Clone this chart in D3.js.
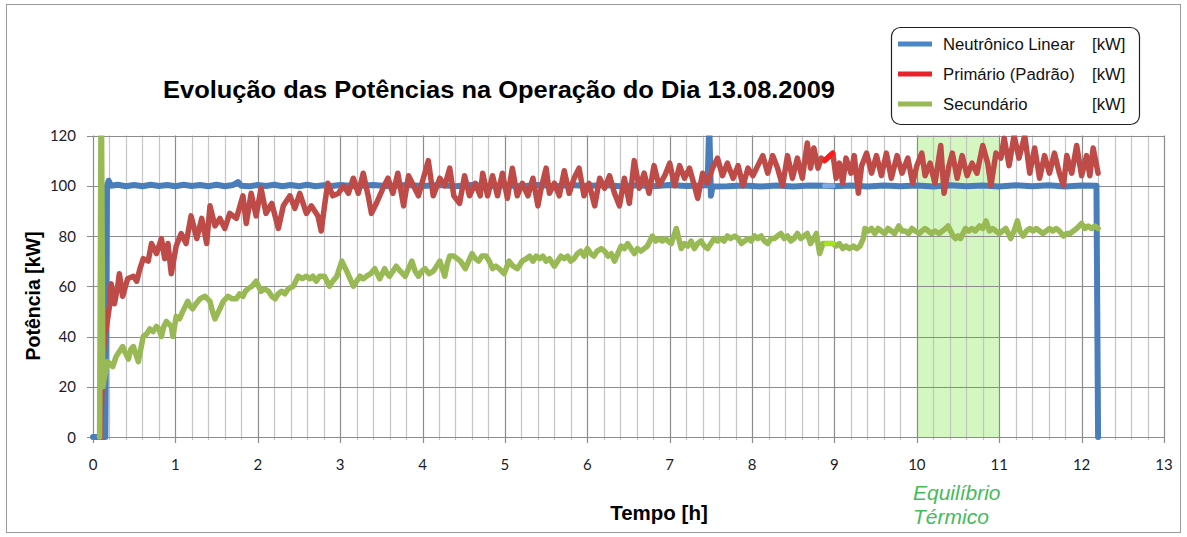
<!DOCTYPE html>
<html>
<head>
<meta charset="utf-8">
<script src="https://cdn.jsdelivr.net/npm/d3@7"></script>
<style>
  html, body { margin: 0; padding: 0; background: #fff; }
  svg { display: block; }
</style>
</head>
<body>
<svg id="chart" width="1187" height="537"></svg>
<script>
// ---------------- DATA ----------------
const title = "Evolução das Potências na Operação do Dia 13.08.2009";
const xLabel = "Tempo [h]";
const yLabel = "Potência [kW]";
const xTicks = [0,1,2,3,4,5,6,7,8,9,10,11,12,13];
const yTicks = [0,20,40,60,80,100,120];
const seriesNames = ["Neutrônico Linear", "Primário (Padrão)", "Secundário"];
const seriesUnits = ["[kW]", "[kW]", "[kW]"];
const shadeRange = [10, 11];
const shadeLabel = ["Equilíbrio", "Térmico"];

// Neutrônico Linear [h, kW]
const neutronico = [[0,0],[0.15,0],[0.17,100],[0.19,102],[0.22,100],[0.3,100.4],[0.4,99.8],[0.5,100.3],[0.6,99.8],[0.7,100.4],[0.8,99.9],[0.9,100.3],
[1.0,99.8],[1.1,100.4],[1.2,99.9],[1.3,100.3],[1.4,99.8],[1.5,100.4],[1.6,99.8],[1.7,100.3],[1.76,101.5],[1.8,100],[1.9,99.8],[2.0,100.3],
[2.1,99.9],[2.2,100.4],[2.3,99.8],[2.4,100.3],[2.5,99.8],[2.6,100.4],[2.7,99.8],[2.8,100.2],[2.9,99.9],[3.0,100.3],[3.2,99.8],[3.4,100.3],
[3.6,99.8],[3.8,100.3],[4.0,99.9],[4.2,100.3],[4.4,99.8],[4.6,100.3],[4.8,99.9],[5.0,100.2],[5.2,99.8],[5.4,100.3],[5.6,99.8],[5.8,100.3],
[6.0,99.9],[6.2,100.3],[6.4,99.8],[6.6,100.2],[6.8,99.8],[7.0,100.3],[7.2,99.9],[7.46,100.2],[7.48,125],[7.5,96],[7.52,99.7],[7.7,99.8],
[7.9,100.1],[8.1,99.7],[8.3,100.1],[8.5,99.7],[8.7,100.1],[8.88,100],[9.0,99.8],[9.2,100.1],[9.4,99.7],[9.6,100.1],[9.8,99.8],[10.0,100.1],
[10.2,99.7],[10.4,100.2],[10.6,99.8],[10.8,100.1],[11.0,99.7],[11.2,100.2],[11.4,99.8],[11.6,100.2],[11.8,99.7],[12.0,100.1],[12.18,100],[12.2,0]];

// Primário (Padrão) [h, kW]
const primario = [[0.09,0],[0.12,30],[0.14,40],[0.16,43],[0.2,52],[0.22,61],[0.26,53],[0.3,60],[0.32,65],[0.36,56],[0.42,63],[0.49,64],[0.53,62],
[0.57,67],[0.61,71],[0.67,70],[0.71,77],[0.77,73],[0.83,79],[0.87,71],[0.91,77],[0.95,65],[1.01,76],[1.07,81],[1.13,77],[1.19,88],[1.26,79],
[1.32,87],[1.38,77],[1.42,92],[1.48,84],[1.54,87],[1.6,83],[1.66,89],[1.74,87],[1.82,96],[1.86,85],[1.92,97],[1.98,88],[2.04,99],[2.1,89],
[2.17,93],[2.25,83],[2.31,92],[2.39,96],[2.45,91],[2.51,97],[2.59,89],[2.65,92],[2.73,88],[2.77,82],[2.81,92],[2.85,101],[2.91,96],[2.98,97],
[3.04,100],[3.1,97],[3.16,103],[3.22,97],[3.28,105],[3.34,96],[3.38,89],[3.44,93],[3.52,99],[3.58,103],[3.64,97],[3.7,105],[3.77,92],[3.83,104],
[3.89,100],[3.95,96],[4.01,103],[4.07,110],[4.13,96],[4.21,103],[4.27,100],[4.33,107],[4.38,96],[4.45,93],[4.51,104],[4.57,96],[4.64,101],
[4.7,96],[4.73,105],[4.79,96],[4.85,104],[4.91,96],[4.97,105],[5.03,95],[5.09,107],[5.15,96],[5.21,101],[5.28,96],[5.34,103],[5.4,92],[5.44,99],
[5.5,107],[5.54,97],[5.6,101],[5.66,96],[5.72,106],[5.78,97],[5.84,103],[5.9,107],[5.96,96],[6.02,101],[6.09,92],[6.15,103],[6.21,99],[6.27,104],
[6.33,97],[6.39,92],[6.45,103],[6.51,93],[6.57,110],[6.63,99],[6.69,105],[6.75,97],[6.81,108],[6.87,100],[6.94,104],[7.0,109],[7.06,100],
[7.12,108],[7.18,103],[7.24,107],[7.3,100],[7.34,95],[7.4,105],[7.46,101],[7.52,107],[7.58,111],[7.64,104],[7.7,109],[7.77,103],[7.83,108],
[7.89,100],[7.95,107],[8.01,104],[8.07,108],[8.13,112],[8.19,105],[8.25,112],[8.31,107],[8.37,100],[8.43,112],[8.49,103],[8.55,111],[8.61,103],
[8.67,117],[8.71,107],[8.75,115],[8.8,107],[8.84,111],[8.88,110],[8.98,113],[9.02,103],[9.06,109],[9.1,101],[9.14,111],[9.2,105],[9.24,112],
[9.29,97],[9.33,108],[9.39,113],[9.45,105],[9.51,112],[9.57,104],[9.63,113],[9.69,103],[9.76,112],[9.82,105],[9.89,111],[9.95,101],[10.0,108],
[10.06,113],[10.1,104],[10.16,109],[10.22,101],[10.29,116],[10.33,97],[10.39,108],[10.43,113],[10.49,103],[10.55,112],[10.61,104],[10.67,109],
[10.73,105],[10.8,116],[10.86,109],[10.9,100],[10.96,113],[11.02,111],[11.06,119],[11.12,108],[11.18,120],[11.24,111],[11.31,120],[11.37,105],
[11.43,115],[11.49,103],[11.55,112],[11.61,105],[11.67,113],[11.73,105],[11.78,100],[11.82,112],[11.88,105],[11.94,116],[12.0,104],[12.06,112],
[12.1,104],[12.14,115],[12.2,105]];

// Secundário [h, kW]
const secundario = [[0.08,0],[0.1,150],[0.12,20],[0.14,24],[0.18,30],[0.24,28],[0.28,32],[0.32,34],[0.36,36],[0.4,33],[0.43,31],[0.46,35],[0.49,36],
[0.52,33],[0.55,30],[0.58,35],[0.61,40],[0.65,41],[0.69,43],[0.73,42],[0.77,44],[0.8,43],[0.83,40],[0.86,44],[0.89,46],[0.92,45],[0.95,44],
[0.97,40],[1.01,48],[1.05,47],[1.09,50],[1.12,52],[1.15,54],[1.18,52],[1.21,51],[1.25,53],[1.3,55],[1.36,56],[1.39,55],[1.42,54],[1.45,50],
[1.48,47],[1.51,49],[1.54,51],[1.58,54],[1.61,55],[1.64,56],[1.69,55],[1.74,55],[1.78,57],[1.82,56],[1.85,58],[1.88,59],[1.93,60],[1.98,62],
[2.01,60],[2.04,58],[2.08,59],[2.13,58],[2.17,56],[2.21,55],[2.25,57],[2.29,58],[2.33,57],[2.37,59],[2.43,60],[2.46,62],[2.49,64],[2.54,63],
[2.59,64],[2.63,63],[2.67,64],[2.71,62],[2.75,64],[2.81,64],[2.84,62],[2.87,60],[2.91,62],[2.96,64],[3.02,70],[3.05,68],[3.08,66],[3.12,63],
[3.16,60],[3.2,62],[3.24,64],[3.28,63],[3.32,64],[3.37,65],[3.42,67],[3.45,65],[3.48,63],[3.51,65],[3.54,67],[3.57,65],[3.6,64],[3.64,66],
[3.68,68],[3.73,66],[3.79,64],[3.83,67],[3.87,70],[3.91,66],[3.95,64],[3.99,66],[4.03,67],[4.08,65],[4.13,66],[4.17,68],[4.21,70],[4.24,67],
[4.27,64],[4.3,69],[4.33,72],[4.38,72],[4.42,71],[4.46,70],[4.52,67],[4.56,70],[4.6,73],[4.64,71],[4.68,70],[4.72,72],[4.77,72],[4.81,70],
[4.85,67],[4.89,68],[4.93,67],[4.99,65],[5.05,70],[5.1,68],[5.15,67],[5.21,70],[5.26,71],[5.3,72],[5.34,70],[5.38,72],[5.42,71],[5.46,72],
[5.5,70],[5.54,71],[5.6,68],[5.64,70],[5.68,72],[5.72,71],[5.76,72],[5.8,70],[5.84,71],[5.88,73],[5.92,74],[5.96,72],[6.0,75],[6.04,73],
[6.08,72],[6.12,74],[6.17,75],[6.21,74],[6.25,72],[6.29,73],[6.33,70],[6.37,73],[6.41,76],[6.45,75],[6.49,77],[6.53,75],[6.57,73],[6.61,75],
[6.65,74],[6.69,75],[6.73,76],[6.76,78],[6.79,80],[6.83,78],[6.87,79],[6.91,78],[6.95,79],[6.98,78],[7.02,77],[7.05,80],[7.08,83],[7.11,79],
[7.14,75],[7.18,77],[7.22,76],[7.26,78],[7.3,75],[7.34,77],[7.38,78],[7.42,76],[7.46,75],[7.5,77],[7.54,79],[7.58,78],[7.62,79],[7.66,78],
[7.7,80],[7.74,79],[7.79,80],[7.83,79],[7.87,77],[7.91,78],[7.95,79],[7.99,78],[8.03,80],[8.07,79],[8.11,80],[8.15,78],[8.19,77],[8.23,79],
[8.27,79],[8.31,80],[8.35,81],[8.39,79],[8.43,80],[8.47,78],[8.51,79],[8.55,81],[8.59,79],[8.63,80],[8.67,81],[8.71,77],[8.75,79],[8.78,81],
[8.82,73],[8.86,77],[8.9,77],[8.98,77],[9.02,76],[9.06,77],[9.1,75],[9.14,76],[9.18,75],[9.23,76],[9.27,75],[9.31,76],[9.35,79],[9.37,83],
[9.41,82],[9.45,83],[9.49,81],[9.53,83],[9.57,82],[9.61,81],[9.65,83],[9.69,82],[9.73,81],[9.78,84],[9.82,82],[9.86,82],[9.9,81],[9.94,83],
[9.98,82],[10.03,81],[10.06,82],[10.1,83],[10.14,82],[10.18,81],[10.22,82],[10.27,81],[10.31,82],[10.35,83],[10.38,84],[10.41,82],[10.44,80],
[10.47,79],[10.5,80],[10.53,79],[10.56,81],[10.59,83],[10.63,82],[10.67,83],[10.71,82],[10.76,84],[10.8,83],[10.84,86],[10.88,82],[10.92,83],
[10.96,82],[11.0,81],[11.04,82],[11.08,83],[11.11,81],[11.14,79],[11.18,82],[11.22,86],[11.25,82],[11.29,80],[11.33,82],[11.37,83],[11.41,82],
[11.45,83],[11.49,82],[11.53,81],[11.57,82],[11.61,83],[11.65,82],[11.69,83],[11.73,82],[11.78,80],[11.82,81],[11.86,81],[11.9,82],[11.94,83],
[11.97,84],[12.0,85],[12.04,83],[12.08,84],[12.12,83],[12.16,84],[12.2,83]];

// highlighted (selected) short segments near 9 h
const neutronicoSel = [[8.88,100],[8.98,100]];
const primarioSel = [[8.88,110],[8.98,113]];
const secundarioSel = [[8.9,77],[8.98,77]];

// ---------------- CHART ----------------
const svg = d3.select("#chart");
const X0 = 93, X1 = 1164, Y0 = 437, Y1 = 135.5;
const x = d3.scaleLinear().domain([0, 13]).range([X0, X1]);
const y = d3.scaleLinear().domain([0, 120]).range([Y0, Y1]);
const sans = "'Liberation Sans', Arial, sans-serif";

// outer chart border
svg.append("rect").attr("x", 6.5).attr("y", 4.5).attr("width", 1174).attr("height", 528)
  .attr("fill", "none").attr("stroke", "#9a9a9a").attr("stroke-width", 1);

// shaded band
svg.append("rect")
  .attr("x", x(shadeRange[0])).attr("y", y(120))
  .attr("width", x(shadeRange[1]) - x(shadeRange[0])).attr("height", y(0) - y(120))
  .attr("fill", "#d4f7c2");

// minor vertical grid
const minorX = d3.range(0, 13.001, 0.2).filter(v => Math.abs(v - Math.round(v)) > 1e-6);
svg.append("g").selectAll("line").data(minorX).join("line")
  .attr("x1", d => Math.round(x(d)) + 0.5).attr("x2", d => Math.round(x(d)) + 0.5)
  .attr("y1", y(120)).attr("y2", y(0) + 3)
  .attr("stroke", "#c4c4c4").attr("stroke-width", 1.2);

// major vertical grid
svg.append("g").selectAll("line").data(xTicks).join("line")
  .attr("x1", d => Math.round(x(d)) + 0.5).attr("x2", d => Math.round(x(d)) + 0.5)
  .attr("y1", y(120)).attr("y2", y(0) + 6)
  .attr("stroke", "#8c8c8c").attr("stroke-width", 1.2);

// horizontal grid
svg.append("g").selectAll("line").data(yTicks).join("line")
  .attr("x1", X0 - 6).attr("x2", X1)
  .attr("y1", d => Math.round(y(d)) + 0.5).attr("y2", d => Math.round(y(d)) + 0.5)
  .attr("stroke", "#8c8c8c").attr("stroke-width", 1.2);

// axis tick labels
const tickFont = "Lato, 'Open Sans', sans-serif";
svg.append("g").selectAll("text").data(yTicks).join("text")
  .attr("x", 76).attr("y", d => y(d) + 5.5)
  .attr("text-anchor", "end").attr("font-family", tickFont).attr("font-size", 15)
  .attr("fill", "#1b1b2b").text(d => d);
svg.append("g").selectAll("text").data(xTicks).join("text")
  .attr("x", d => x(d)).attr("y", 470)
  .attr("text-anchor", "middle").attr("font-family", tickFont).attr("font-size", 15)
  .attr("fill", "#1b1b2b").text(d => d);

// clip
svg.append("clipPath").attr("id", "plotclip").append("rect")
  .attr("x", X0 - 5).attr("y", y(120)).attr("width", X1 - X0 + 10).attr("height", y(0) - y(120) + 5);

const line = d3.line().x(d => x(d[0])).y(d => y(d[1]));
const colors = ["#4a7ebb", "#be4b48", "#98b954"];
const widths = [6, 5.5, 5.5];
const lg = svg.append("g").attr("clip-path", "url(#plotclip)");
[neutronico, primario, secundario].forEach((s, i) => {
  lg.append("path").datum(s).attr("d", line)
    .attr("fill", "none").attr("stroke", colors[i]).attr("stroke-width", widths[i])
    .attr("stroke-linejoin", "round").attr("stroke-linecap", "round");
});
const selColors = ["#7fa9e2", "#ff1a1a", "#a6e619"];
[neutronicoSel, primarioSel, secundarioSel].forEach((s, i) => {
  lg.append("path").datum(s).attr("d", line)
    .attr("fill", "none").attr("stroke", selColors[i]).attr("stroke-width", 5)
    .attr("stroke-linecap", "round");
});

// title
svg.append("text").attr("x", 499).attr("y", 98).attr("text-anchor", "middle")
  .attr("font-family", sans).attr("font-weight", "bold")
  .attr("font-size", 23).attr("textLength", 672).attr("lengthAdjust", "spacingAndGlyphs")
  .attr("fill", "#000").text(title);

// axis titles
svg.append("text").attr("x", 659).attr("y", 520).attr("text-anchor", "middle")
  .attr("font-family", sans).attr("font-weight", "bold")
  .attr("font-size", 20.5).attr("fill", "#000").text(xLabel);
svg.append("text").attr("transform", "translate(40,296) rotate(-90)").attr("text-anchor", "middle")
  .attr("font-family", sans).attr("font-weight", "bold")
  .attr("font-size", 19.5).attr("fill", "#000").text(yLabel);

// shade label
shadeLabel.forEach((t, i) => {
  svg.append("text").attr("x", 913).attr("y", 500 + i * 24)
    .attr("font-family", sans).attr("font-style", "italic")
    .attr("font-size", 21).attr("fill", "#45bb5a").text(t);
});

// legend
const leg = svg.append("g");
leg.append("rect").attr("x", 891.5).attr("y", 27.5).attr("width", 248).attr("height", 97).attr("rx", 9)
  .attr("fill", "#fff").attr("stroke", "#222").attr("stroke-width", 1.2);
const legColors = ["#4a86c8", "#e8232b", "#98b954"];
seriesNames.forEach((n, i) => {
  const ly = 44 + i * 30;
  leg.append("line").attr("x1", 898).attr("x2", 932).attr("y1", ly).attr("y2", ly)
    .attr("stroke", legColors[i]).attr("stroke-width", 5);
  leg.append("text").attr("x", 943).attr("y", ly + 6).attr("font-family", sans)
    .attr("font-size", 16.7).attr("fill", "#111").text(n);
  leg.append("text").attr("x", 1092).attr("y", ly + 6).attr("font-family", sans)
    .attr("font-size", 16.7).attr("fill", "#111").text(seriesUnits[i]);
});
</script>
</body>
</html>
